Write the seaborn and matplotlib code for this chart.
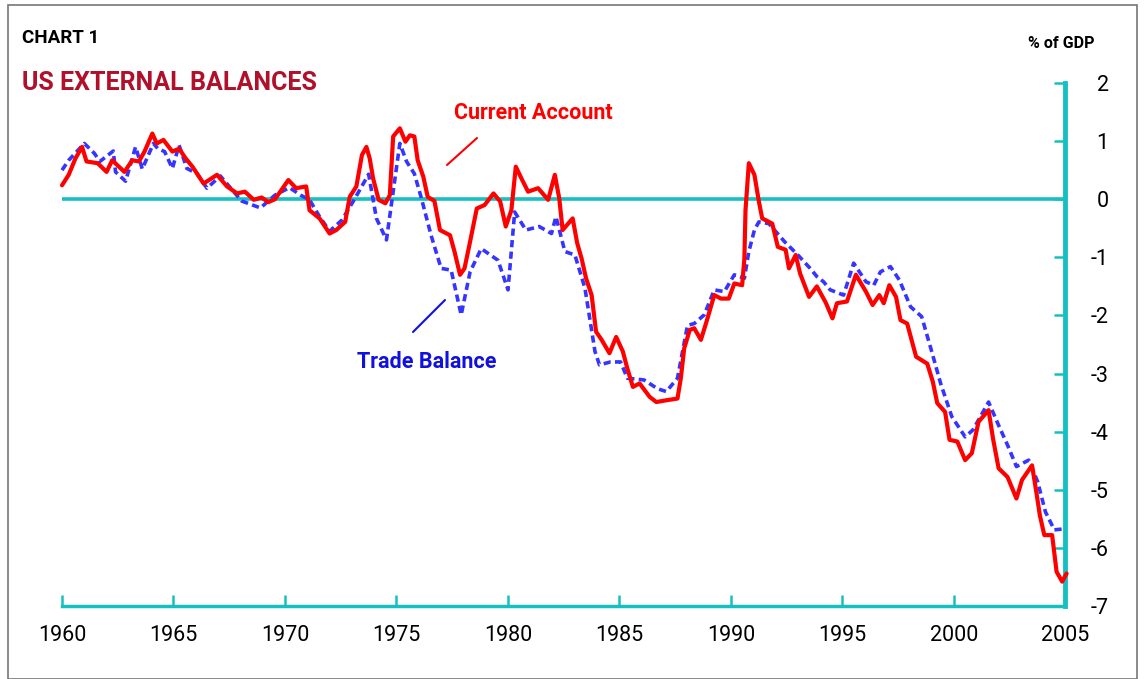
import matplotlib
matplotlib.use("Agg")
import matplotlib.pyplot as plt
import seaborn as sns
from matplotlib.lines import Line2D
from matplotlib.patches import Rectangle

# Current account balance, % of GDP
ca_year = [1960.0, 1960.3, 1960.6, 1960.9, 1961.1, 1961.6, 1962.0, 1962.25, 1962.55, 1962.8,
           1963.15, 1963.45, 1963.7, 1964.05, 1964.25, 1964.55, 1964.95, 1965.25, 1965.55, 1965.85,
           1966.35, 1966.95, 1967.4, 1967.85, 1968.2, 1968.6, 1968.95, 1969.25, 1969.55, 1970.15,
           1970.5, 1970.95, 1971.1, 1971.55, 1972.0, 1972.3, 1972.7, 1972.9, 1973.2, 1973.45,
           1973.65, 1973.8, 1973.95, 1974.2, 1974.5, 1974.7, 1974.85, 1975.15, 1975.4, 1975.6,
           1975.8, 1975.95, 1976.2, 1976.4, 1976.7, 1976.95, 1977.4, 1977.6, 1977.85, 1978.05,
           1978.3, 1978.6, 1978.95, 1979.35, 1979.65, 1979.9, 1980.15, 1980.35, 1980.6, 1980.9,
           1981.35, 1981.8, 1982.1, 1982.3, 1982.45, 1982.7, 1982.9, 1983.1, 1983.3, 1983.5,
           1983.75, 1983.95, 1984.2, 1984.55, 1984.85, 1985.15, 1985.35, 1985.6, 1985.9, 1986.35,
           1986.65, 1987.1, 1987.6, 1987.75, 1987.9, 1988.15, 1988.35, 1988.65, 1988.9, 1989.25,
           1989.55, 1989.9, 1990.15, 1990.5, 1990.6, 1990.65, 1990.8, 1991.05, 1991.25, 1991.4,
           1991.85, 1992.1, 1992.45, 1992.6, 1992.9, 1993.1, 1993.5, 1993.85, 1994.25, 1994.55,
           1994.75, 1995.2, 1995.6, 1996.05, 1996.35, 1996.65, 1996.85, 1997.1, 1997.4, 1997.6,
           1997.9, 1998.3, 1998.8, 1999.05, 1999.25, 1999.6, 1999.8, 2000.15, 2000.5, 2000.8,
           2001.1, 2001.55, 2001.75, 2002.0, 2002.4, 2002.8, 2003.05, 2003.5, 2003.7, 2003.85,
           2004.05, 2004.4, 2004.6, 2004.85, 2005.05]
ca_val = [0.24, 0.42, 0.70, 0.90, 0.65, 0.62, 0.47, 0.67, 0.56, 0.47,
          0.67, 0.65, 0.82, 1.13, 0.96, 1.02, 0.82, 0.87, 0.70, 0.56,
          0.27, 0.42, 0.22, 0.10, 0.13, -0.01, 0.03, -0.05, 0.00, 0.33,
          0.19, 0.22, -0.19, -0.33, -0.59, -0.53, -0.39, 0.04, 0.22, 0.76,
          0.90, 0.70, 0.36, -0.01, -0.07, 0.07, 1.08, 1.22, 0.99, 1.10,
          1.08, 0.67, 0.39, 0.04, -0.03, -0.53, -0.62, -0.90, -1.30, -1.19,
          -0.73, -0.16, -0.10, 0.10, -0.04, -0.47, -0.19, 0.56, 0.36, 0.13,
          0.19, -0.01, 0.42, 0.01, -0.53, -0.42, -0.33, -0.75, -1.02, -1.36,
          -1.65, -2.28, -2.42, -2.65, -2.37, -2.62, -2.91, -3.23, -3.17, -3.40,
          -3.49, -3.46, -3.43, -3.08, -2.57, -2.25, -2.22, -2.42, -2.11, -1.65,
          -1.71, -1.71, -1.45, -1.48, -1.02, -0.19, 0.62, 0.42, -0.04, -0.33,
          -0.42, -0.82, -0.87, -1.19, -0.96, -1.28, -1.68, -1.50, -1.78, -2.05,
          -1.79, -1.76, -1.30, -1.59, -1.82, -1.65, -1.79, -1.48, -1.68, -2.08,
          -2.14, -2.71, -2.83, -3.14, -3.51, -3.66, -4.14, -4.17, -4.49, -4.37,
          -3.83, -3.63, -4.12, -4.63, -4.78, -5.15, -4.83, -4.58, -5.06, -5.44,
          -5.78, -5.78, -6.41, -6.58, -6.44]

# Trade balance, % of GDP
tb_year = [1960.0, 1960.3, 1961.0, 1961.45, 1961.7, 1962.3, 1962.4, 1962.85, 1963.3, 1963.6,
           1964.1, 1964.3, 1964.6, 1964.95, 1965.25, 1965.6, 1966.05, 1966.5, 1967.1, 1967.7,
           1968.05, 1968.9, 1969.55, 1970.2, 1970.7, 1971.1, 1971.55, 1972.0, 1972.55, 1973.1,
           1973.75, 1974.1, 1974.55, 1974.85, 1975.15, 1975.45, 1975.8, 1976.1, 1976.55, 1977.0,
           1977.45, 1977.9, 1978.3, 1978.8, 1979.55, 1980.0, 1980.3, 1980.8, 1981.4, 1981.95,
           1982.15, 1982.55, 1983.0, 1983.45, 1983.9, 1984.1, 1984.6, 1985.05, 1985.35, 1986.1,
           1986.7, 1987.1, 1987.6, 1988.05, 1988.35, 1988.8, 1989.25, 1989.7, 1990.15, 1990.6,
           1990.8, 1991.05, 1991.25, 1991.7, 1992.4, 1993.0, 1993.55, 1993.85, 1994.15, 1994.45,
           1995.05, 1995.5, 1996.05, 1996.4, 1996.7, 1997.15, 1997.55, 1998.05, 1998.55, 1999.0,
           1999.4, 1999.9, 2000.5, 2000.85, 2001.55, 2002.0, 2002.4, 2002.8, 2003.35, 2003.75,
           2004.1, 2004.5, 2005.0]
tb_val = [0.50, 0.67, 0.96, 0.79, 0.65, 0.83, 0.47, 0.31, 0.90, 0.52,
          0.96, 0.87, 0.82, 0.53, 0.93, 0.53, 0.44, 0.19, 0.40, 0.13,
          -0.03, -0.15, 0.07, 0.20, 0.07, -0.01, -0.30, -0.55, -0.36, -0.01,
          0.43, -0.33, -0.70, 0.13, 0.96, 0.65, 0.44, 0.04, -0.62, -1.19,
          -1.22, -1.99, -1.25, -0.85, -1.05, -1.56, -0.22, -0.53, -0.47, -0.59,
          -0.30, -0.90, -0.96, -1.53, -2.62, -2.85, -2.80, -2.80, -3.08, -3.11,
          -3.26, -3.31, -3.08, -2.17, -2.14, -1.99, -1.56, -1.59, -1.30, -1.36,
          -0.90, -0.53, -0.39, -0.42, -0.73, -0.96, -1.19, -1.33, -1.42, -1.56,
          -1.65, -1.10, -1.42, -1.48, -1.25, -1.16, -1.39, -1.85, -2.02, -2.62,
          -3.17, -3.74, -4.09, -3.97, -3.49, -3.89, -4.23, -4.60, -4.49, -4.86,
          -5.38, -5.69, -5.67]

x_ticks = [1960, 1965, 1970, 1975, 1980, 1985, 1990, 1995, 2000, 2005]
y_ticks = [2, 1, 0, -1, -2, -3, -4, -5, -6, -7]

teal = "#17C0C0"
red = "#FF0000"
blue = "#3535FF"

sns.set_style("white")
plt.rcParams["font.family"] = ["Roboto", "DejaVu Sans"]

W, H = 1145, 679
fig = plt.figure(figsize=(W / 100, H / 100), dpi=100)
x0, x1 = 1960, 2005.4
ax = fig.add_axes([62 / W, (H - 606) / H, (22.3 * (x1 - x0)) / W, (606 - 83) / H])

sns.lineplot(x=tb_year, y=tb_val, ax=ax, color=blue, lw=2.6,
             linestyle=(0, (2, 1.2)), estimator=None, sort=False, clip_on=False)
sns.lineplot(x=ca_year, y=ca_val, ax=ax, color=red, lw=3.0,
             estimator=None, sort=False, clip_on=False, zorder=3)
ax.axhline(0, xmin=0, xmax=(2005 - x0) / (x1 - x0), color=teal, lw=2.6, zorder=1)

ax.set_xlim(x0, x1)
ax.set_ylim(-7, 2)
ax.set_xlabel("")
ax.set_ylabel("")

for s in ["top", "left"]:
    ax.spines[s].set_visible(False)
ax.spines["right"].set_position(("data", 2005))
ax.spines["right"].set_color(teal)
ax.spines["right"].set_linewidth(3.5)
ax.spines["bottom"].set_color(teal)
ax.spines["bottom"].set_linewidth(2.5)
ax.spines["bottom"].set_bounds(1960, 2005)

ax.set_xticks(x_ticks)
ax.set_xticklabels([str(t) for t in x_ticks])
ax.set_yticks(y_ticks)
ax.set_yticklabels([str(t) for t in y_ticks], ha="right")
ax.yaxis.tick_right()
ax.tick_params(axis="x", direction="in", length=8, width=1.8, color=teal,
               labelsize=15.5, labelcolor="black", pad=14, bottom=True)
ax.tick_params(axis="y", direction="in", length=8, width=1.8, color=teal,
               labelsize=15.5, labelcolor="black", pad=31, right=True, left=False)

# frame and headings
fig.patches.append(Rectangle((8 / W, 0), (1137 - 8) / W, (H - 5) / H, transform=fig.transFigure,
                             fill=False, edgecolor="#777777", lw=1.2))
fig.text(22 / W, 1 - 38 / H, "CHART 1", fontsize=13.5, fontweight="bold",
         color="black", va="center", ha="left")
fig.text(22 / W, 1 - 83 / H, "US EXTERNAL BALANCES", fontsize=18, fontweight="bold",
         color="#B0102A", va="center", ha="left")
fig.text(1095 / W, 1 - 43 / H, "% of GDP", fontsize=11.5, fontweight="bold",
         color="black", va="center", ha="right")

fig.text(533 / W, 1 - 113 / H, "Current Account", fontsize=15.5, fontweight="bold",
         color=red, va="center", ha="center")
fig.lines.append(Line2D([447 / W, 477 / W], [1 - 165 / H, 1 - 138 / H],
                        transform=fig.transFigure, color=red, lw=1.5))
fig.text(427 / W, 1 - 362 / H, "Trade Balance", fontsize=15.5, fontweight="bold",
         color="#1010E0", va="center", ha="center")
fig.lines.append(Line2D([413 / W, 445 / W], [1 - 332 / H, 1 - 300 / H],
                        transform=fig.transFigure, color="#1010E0", lw=1.5))

fig.savefig("out.png", dpi=100)
